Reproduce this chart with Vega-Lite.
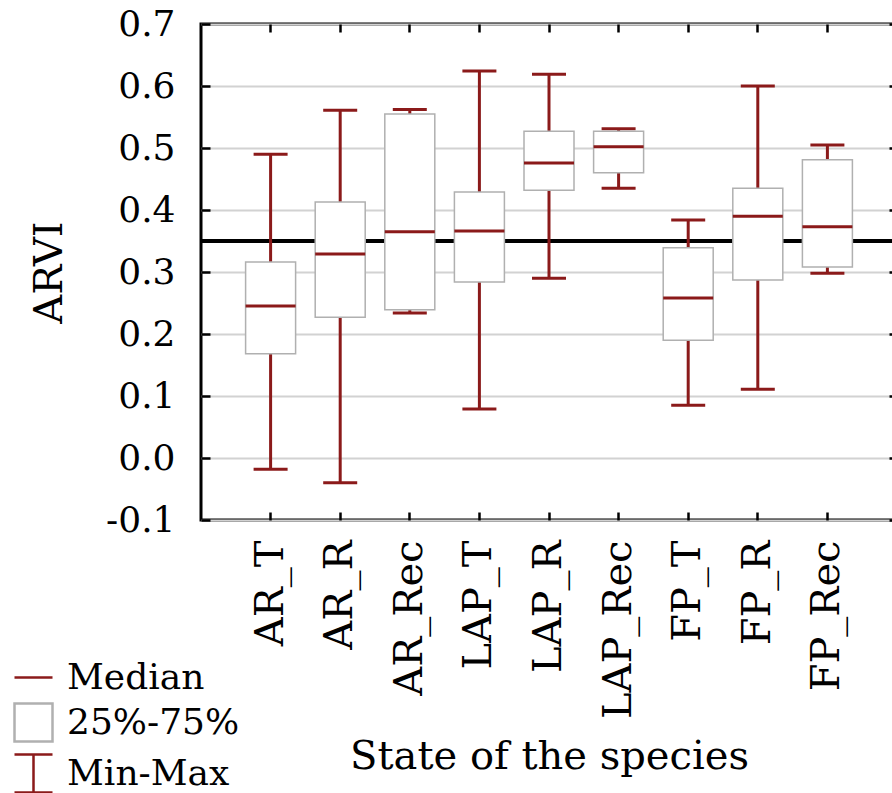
{
  "$schema": "https://vega.github.io/schema/vega-lite/v6.json",
  "autosize": {"type": "none"},
  "padding": {"left": 201, "top": 24, "right": 0, "bottom": 273},
  "width": 696,
  "height": 496,
  "background": "white",
  "config": {
    "view": {"stroke": "black", "strokeWidth": 3},
    "font": "DejaVu Serif",
    "axis": {
      "labelFont": "DejaVu Serif",
      "titleFont": "DejaVu Serif",
      "labelColor": "black",
      "titleColor": "black",
      "titleFontWeight": "normal",
      "domain": false,
      "tickColor": "black",
      "tickWidth": 2.5
    }
  },
  "datasets": {
    "stats": [
      {"state": "AR_T", "min": -0.018, "q1": 0.168, "median": 0.245, "q3": 0.316, "max": 0.49},
      {"state": "AR_R", "min": -0.04, "q1": 0.227, "median": 0.329, "q3": 0.413, "max": 0.561},
      {"state": "AR_Rec", "min": 0.234, "q1": 0.239, "median": 0.365, "q3": 0.555, "max": 0.562},
      {"state": "LAP_T", "min": 0.079, "q1": 0.284, "median": 0.366, "q3": 0.429, "max": 0.624},
      {"state": "LAP_R", "min": 0.29, "q1": 0.432, "median": 0.476, "q3": 0.527, "max": 0.619},
      {"state": "LAP_Rec", "min": 0.435, "q1": 0.46, "median": 0.502, "q3": 0.527, "max": 0.531},
      {"state": "FP_T", "min": 0.085, "q1": 0.19, "median": 0.258, "q3": 0.339, "max": 0.384},
      {"state": "FP_R", "min": 0.111, "q1": 0.287, "median": 0.39, "q3": 0.435, "max": 0.6},
      {"state": "FP_Rec", "min": 0.298, "q1": 0.308, "median": 0.373, "q3": 0.481, "max": 0.505}
    ],
    "legenditems": [
      {"item": "Median"},
      {"item": "25%-75%"},
      {"item": "Min-Max"}
    ]
  },
  "data": {"name": "stats"},
  "resolve": {"axis": {"x": "independent", "y": "independent"}},
  "layer": [
    {
      "mark": {"type": "rule", "color": "black", "strokeWidth": 3},
      "encoding": {
        "y": {"datum": 0.35, "type": "quantitative", "scale": {"domain": [-0.1, 0.7], "nice": false, "zero": false},
          "axis": {
            "orient": "left",
            "values": [-0.1, 0, 0.1, 0.2, 0.3, 0.4, 0.5, 0.6, 0.7],
            "labelExpr": "datum.value < 0 ? '-' + format(-datum.value, '.1f') : format(datum.value, '.1f')",
            "labelFontSize": 36,
            "labelPadding": 35,
            "tickSize": -9,
            "grid": true,
            "gridColor": "#d2d2d2",
            "gridWidth": 2,
            "title": "ARVI",
            "titleFontSize": 40,
            "titlePadding": 36
          }
        }
      }
    },
    {
      "mark": {"type": "rule", "color": "#8b1a1a", "strokeWidth": 3},
      "encoding": {
        "x": {"field": "state", "type": "nominal", "sort": null,
          "scale": {"type": "band", "paddingInner": 0, "paddingOuter": 0.5},
          "axis": {
            "orient": "bottom",
            "labelAngle": -90,
            "labelFontSize": 40,
            "labelPadding": 28,
            "tickSize": -8,
            "title": "State of the species",
            "titleFontSize": 40,
            "titlePadding": 18
          }
        },
        "y": {"field": "min", "type": "quantitative", "axis": null},
        "y2": {"field": "max"}
      }
    },
    {
      "mark": {"type": "tick", "orient": "horizontal", "color": "#8b1a1a", "thickness": 3, "size": 34, "opacity": 1},
      "encoding": {
        "x": {"field": "state", "type": "nominal", "sort": null,
          "axis": {"orient": "top", "labels": false, "tickSize": -8, "title": null}
        },
        "y": {"field": "max", "type": "quantitative",
          "axis": {"orient": "right", "labels": false, "tickSize": -8, "grid": false, "title": null,
            "values": [-0.1, 0, 0.1, 0.2, 0.3, 0.4, 0.5, 0.6, 0.7]}
        }
      }
    },
    {
      "mark": {"type": "tick", "orient": "horizontal", "color": "#8b1a1a", "thickness": 3, "size": 34, "opacity": 1},
      "encoding": {
        "x": {"field": "state", "type": "nominal", "sort": null, "axis": null},
        "y": {"field": "min", "type": "quantitative", "axis": null}
      }
    },
    {
      "mark": {"type": "bar", "fill": "white", "stroke": "#b0b0b0", "strokeWidth": 1.5, "width": 50},
      "encoding": {
        "x": {"field": "state", "type": "nominal", "sort": null, "axis": null},
        "y": {"field": "q1", "type": "quantitative", "axis": null},
        "y2": {"field": "q3"}
      }
    },
    {
      "mark": {"type": "tick", "orient": "horizontal", "color": "#8b1a1a", "thickness": 3, "size": 50, "opacity": 1},
      "encoding": {
        "x": {"field": "state", "type": "nominal", "sort": null, "axis": null},
        "y": {"field": "median", "type": "quantitative", "axis": null}
      }
    },
    {
      "data": {"name": "legenditems"},
      "mark": {"type": "point", "filled": false, "opacity": 0},
      "encoding": {
        "shape": {"field": "item", "type": "nominal",
          "scale": {"domain": ["Median", "25%-75%", "Min-Max"],
            "range": ["M-1,0H1", "M-1,-1H1V1H-1Z", "M-1,-1H1M0,-1V1M-1,1H1"]},
          "legend": {
            "title": null,
            "orient": "none",
            "legendX": -188,
            "legendY": 633,
            "padding": 0,
            "labelFont": "DejaVu Serif",
            "labelFontSize": 36,
            "labelColor": "black",
            "labelOffset": 13,
            "symbolSize": 1444,
            "symbolFillColor": "white",
            "symbolStrokeWidth": 2.5,
            "rowPadding": 2,
            "labelLimit": 300,
            "encode": {"symbols": {"update": {"opacity": {"value": 1},
              "strokeWidth": {"signal": "datum.value === '25%-75%' ? 1.5 : 2.5"}}}}
          }
        },
        "stroke": {"field": "item", "type": "nominal",
          "scale": {"domain": ["Median", "25%-75%", "Min-Max"], "range": ["#8b1a1a", "#b0b0b0", "#8b1a1a"]},
          "legend": {
            "title": null,
            "orient": "none",
            "legendX": -188,
            "legendY": 633,
            "padding": 0,
            "labelFont": "DejaVu Serif",
            "labelFontSize": 36,
            "labelColor": "black",
            "labelOffset": 13,
            "symbolSize": 1444,
            "symbolFillColor": "white",
            "symbolStrokeWidth": 2.5,
            "rowPadding": 2,
            "labelLimit": 300,
            "encode": {"symbols": {"update": {"opacity": {"value": 1},
              "strokeWidth": {"signal": "datum.value === '25%-75%' ? 1.5 : 2.5"}}}}
          }
        }
      }
    }
  ]
}
